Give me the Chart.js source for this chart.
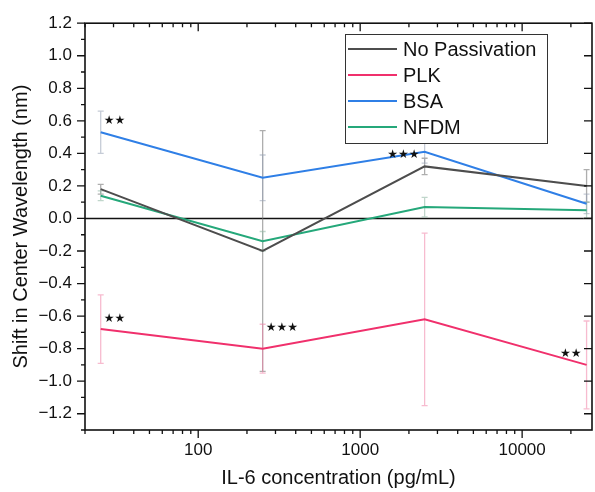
<!DOCTYPE html>
<html>
<head>
<meta charset="utf-8">
<script src="https://cdn.jsdelivr.net/npm/chart.js@4/dist/chart.umd.min.js"></script>
<style>
  html, body { margin: 0; padding: 0; background: #fff; }
  #wrap { width: 595px; height: 492px; position: relative; }
</style>
</head>
<body>
<div id="wrap"><canvas id="c"></canvas></div>
<script>
// ── Data ──────────────────────────────────────────────────────
const concentrations   = [25, 250, 2500, 25000];
const noPassivation    = [0.18, -0.20, 0.32, 0.20];
const noPassivationErr = [0.03, 0.74, 0.05, 0.10];
const plk              = [-0.68, -0.80, -0.62, -0.90];
const plkErr           = [0.21, 0.15, 0.53, 0.27];
const bsa              = [0.53, 0.25, 0.41, 0.09];
const bsaErr           = [0.13, 0.14, 0.07, 0.06];
const nfdm             = [0.14, -0.14, 0.07, 0.05];
const nfdmErr          = [0.03, 0.06, 0.06, 0.05];

const xTickLabels = [100, 1000, 10000];
const yTickLabels = [-1.2, -1.0, -0.8, -0.6, -0.4, -0.2, 0.0, 0.2, 0.4, 0.6, 0.8, 1.0, 1.2];

// significance marks
const sigText  = ['**', '**', '***', '***', '**'];
const sigX     = [25, 25, 250, 2500, 25000];
const sigY     = [0.60, -0.62, -0.67, 0.39, -0.83];
const sigAlign = ['left', 'left', 'left', 'right', 'right'];

const SERIES = [
  { label: 'No Passivation', data: noPassivation, err: noPassivationErr, color: '#4d4d4d', errColor: 'rgba(120,120,120,0.6)' },
  { label: 'PLK',            data: plk,           err: plkErr,           color: '#f0306c', errColor: 'rgba(240,120,160,0.5)' },
  { label: 'BSA',            data: bsa,           err: bsaErr,           color: '#2f7fe6', errColor: 'rgba(150,160,180,0.55)' },
  { label: 'NFDM',           data: nfdm,          err: nfdmErr,          color: '#25a87a', errColor: 'rgba(140,180,160,0.55)' },
];

// ── Plugins ───────────────────────────────────────────────────
const errorBars = {
  id: 'errorBars',
  beforeDatasetsDraw(chart) {
    const { ctx, scales: { x, y }, chartArea: a } = chart;
    ctx.save();
    ctx.beginPath(); ctx.rect(a.left, a.top, a.right - a.left, a.bottom - a.top); ctx.clip();
    // zero line
    ctx.strokeStyle = '#111'; ctx.lineWidth = 1.6;
    ctx.beginPath();
    ctx.moveTo(a.left, y.getPixelForValue(0)); ctx.lineTo(a.right, y.getPixelForValue(0));
    ctx.stroke();
    SERIES.forEach(s => {
      ctx.strokeStyle = s.errColor; ctx.lineWidth = 1.3;
      concentrations.forEach((c, i) => {
        const px = x.getPixelForValue(c);
        const y1 = y.getPixelForValue(s.data[i] + s.err[i]);
        const y2 = y.getPixelForValue(s.data[i] - s.err[i]);
        ctx.beginPath();
        ctx.moveTo(px, y1); ctx.lineTo(px, y2);
        ctx.moveTo(px - 3, y1); ctx.lineTo(px + 3, y1);
        ctx.moveTo(px - 3, y2); ctx.lineTo(px + 3, y2);
        ctx.stroke();
      });
    });
    ctx.restore();
  },
};

const frameAndTicks = {
  id: 'frameAndTicks',
  afterDatasetsDraw(chart) {
    const { ctx, scales: { x, y }, chartArea: a } = chart;
    ctx.save();
    ctx.strokeStyle = '#111'; ctx.lineWidth = 1.6;
    ctx.strokeRect(a.left, a.top, a.right - a.left, a.bottom - a.top);

    ctx.lineWidth = 1.3;
    ctx.beginPath();
    // x ticks: bottom outward, top inward
    for (let dec = 10; dec <= 10000; dec *= 10) {
      for (let m = 1; m <= 9; m++) {
        const v = dec * m;
        if (v < x.min || v > x.max) continue;
        const px = x.getPixelForValue(v);
        const len = m === 1 ? 8 : 4;
        ctx.moveTo(px, a.bottom); ctx.lineTo(px, a.bottom + len);
        ctx.moveTo(px, a.top);    ctx.lineTo(px, a.top + len);
      }
    }
    // y ticks: left outward (major+minor), right inward (major)
    for (let k = -13; k <= 12; k++) {
      const v = k / 10;
      const py = y.getPixelForValue(v);
      const major = k % 2 === 0;
      const len = major ? 8 : 4;
      ctx.moveTo(a.left, py); ctx.lineTo(a.left - len, py);
      if (major) { ctx.moveTo(a.right, py); ctx.lineTo(a.right - len, py); }
    }
    ctx.stroke();

    // significance marks, drawn as filled stars
    ctx.fillStyle = '#111';
    ctx.font = '12px "DejaVu Sans"';
    ctx.textBaseline = 'middle';
    sigText.forEach((t, i) => {
      const px = x.getPixelForValue(sigX[i]);
      const py = y.getPixelForValue(sigY[i]);
      ctx.textAlign = sigAlign[i];
      ctx.fillText(t.replace(/\*/g, '\u2605'), sigAlign[i] === 'left' ? px + 3 : px - 5, py);
    });

    // legend
    const lx = 345, ly = 34, lw = 202, lh = 109;
    ctx.fillStyle = '#fff';
    ctx.fillRect(lx, ly, lw, lh);
    ctx.strokeStyle = '#333'; ctx.lineWidth = 1;
    ctx.strokeRect(lx + 0.5, ly + 0.5, lw, lh);
    ctx.font = '20px "Liberation Sans", Arial, sans-serif';
    ctx.textAlign = 'left';
    ctx.fillStyle = '#111';
    SERIES.forEach((s, i) => {
      const ry = ly + 15 + i * 26;
      ctx.strokeStyle = s.color; ctx.lineWidth = 2;
      ctx.beginPath(); ctx.moveTo(lx + 3, ry); ctx.lineTo(lx + 52, ry); ctx.stroke();
      ctx.fillText(s.label, lx + 58, ry + 1);
    });
    ctx.restore();
  },
};

// ── Chart ─────────────────────────────────────────────────────
const FONT = '"Liberation Sans", Arial, sans-serif';

new Chart(document.getElementById('c'), {
  type: 'line',
  data: {
    datasets: SERIES.map(s => ({
      label: s.label,
      data: concentrations.map((c, i) => ({ x: c, y: s.data[i] })),
      borderColor: s.color,
      borderWidth: 2,
      pointRadius: 0,
      tension: 0,
      fill: false,
    })),
  },
  options: {
    responsive: true, maintainAspectRatio: false, animation: false,
    layout: { padding: { left: 0, right: 3, top: 20, bottom: 0 } },
    plugins: { legend: { display: false }, tooltip: { enabled: false } },
    scales: {
      x: {
        type: 'logarithmic', min: 20, max: 27000,
        grid: { display: false, drawTicks: false },
        border: { display: false },
        afterBuildTicks: s => { s.ticks = xTickLabels.map(v => ({ value: v })); },
        afterFit: s => { s.height = 62; },
        ticks: {
          color: '#111', padding: 10, maxRotation: 0, autoSkip: false,
          font: { family: FONT, size: 17 },
          callback: v => String(v),
        },
        title: {
          display: true, text: 'IL-6 concentration (pg/mL)', color: '#111',
          font: { family: FONT, size: 20 }, padding: { top: 0, bottom: 2 },
        },
      },
      y: {
        min: -1.3, max: 1.2,
        grid: { display: false, drawTicks: false },
        border: { display: false },
        afterBuildTicks: s => { s.ticks = yTickLabels.map(v => ({ value: v })); },
        afterFit: s => { s.width = 85; },
        ticks: {
          color: '#111', padding: 13,
          font: { family: FONT, size: 17 },
          callback: v => (v < 0 ? '\u2212' : '') + Math.abs(v).toFixed(1),
        },
        title: {
          display: true, text: 'Shift in Center Wavelength (nm)', color: '#111',
          font: { family: FONT, size: 20 }, padding: { top: 9, bottom: 0 },
        },
      },
    },
  },
  plugins: [errorBars, frameAndTicks],
});
</script>
</body>
</html>
